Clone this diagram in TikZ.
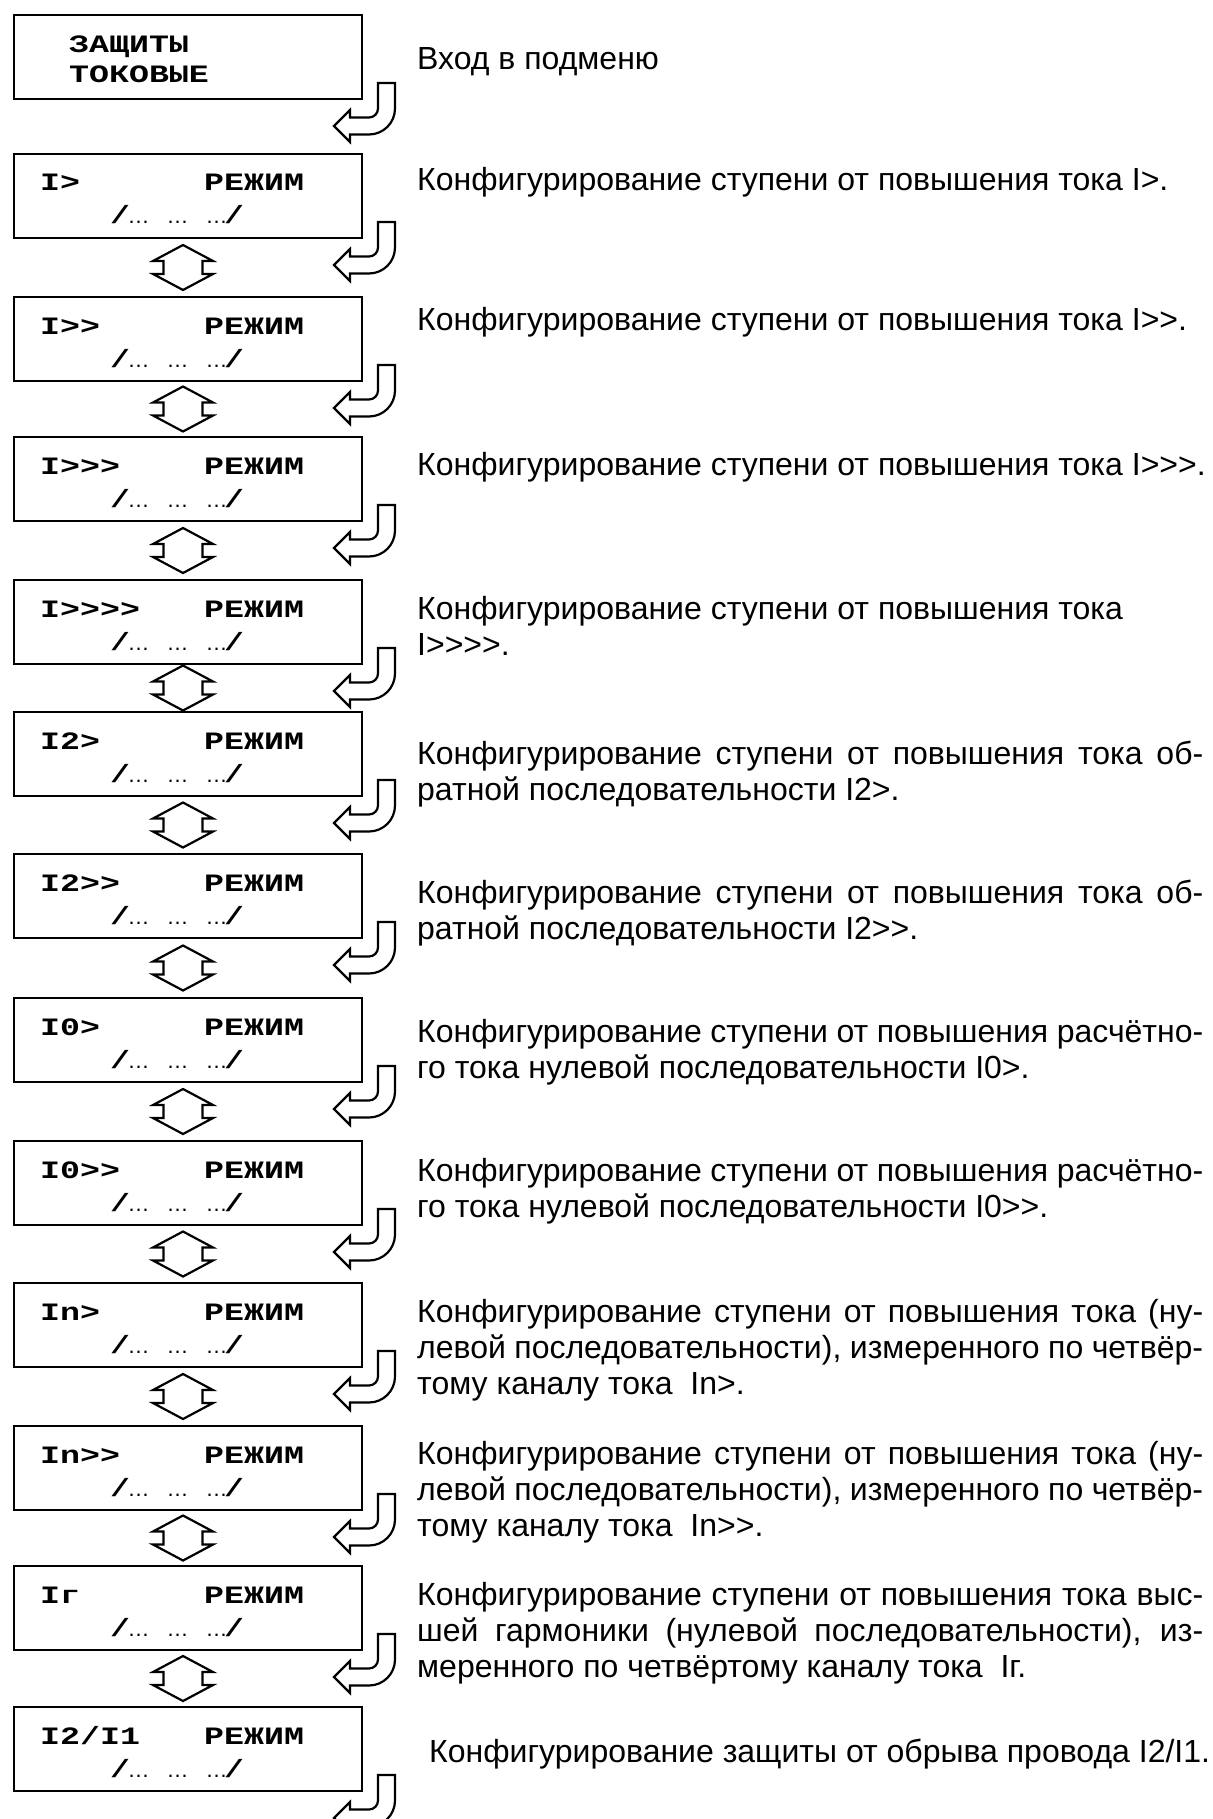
\documentclass[tikz,border=0pt]{standalone}
\usepackage{fontspec}
\setmainfont{Liberation Sans}
\newfontfamily\descfont{Liberation Sans}
\newfontfamily\lcdfont{Liberation Mono}[FakeStretch=1.33]
\usetikzlibrary{calc}

\newlength{\descw}
\setlength{\descw}{786pt}
\newcommand{\jl}[1]{\makebox[\descw][s]{#1}}
\newcommand{\elip}{{\descfont\mdseries\fontsize{22}{24}\selectfont …}}
\newcommand{\dotline}{/\kern-2.5pt\elip\hspace{17pt}\elip\hspace{17pt}\elip\kern-3.5pt/}

\tikzset{
  box/.style={draw, line width=2.6pt, anchor=north west, outer sep=0pt,
    inner sep=0pt, minimum width=348pt, minimum height=84pt},
  lcd/.style={anchor=base west, inner sep=0pt,
    font=\lcdfont\bfseries\fontsize{25}{28}\selectfont},
  desc/.style={anchor=base west, inner sep=0pt, align=left,
    font=\descfont\fontsize{32}{36}\selectfont},
  hollow/.style={draw, fill=white, line width=2.2pt, line join=miter},
  updown/.pic={
    \draw[hollow] (0,-22.5) -- (30,-6.5) -- (19.5,-6.5) -- (19.5,6.5)
      -- (30,6.5) -- (0,22.5) -- (-30,6.5) -- (-19.5,6.5) -- (-19.5,-6.5)
      -- (-30,-6.5) -- cycle;
  },
  turnarrow/.pic={
    \draw[hollow] (16,-16) -- (33,-16) -- (33,9.5)
      .. controls (33,23.85) and (21.35,35.5) .. (7,35.5)
      -- (-12,35.5) -- (-12,43) -- (-28,27) -- (-12,11) -- (-12,18.5)
      -- (7,18.5) .. controls (11.97,18.5) and (16,14.47) .. (16,9.5)
      -- cycle;
  }
}

\begin{document}
\begin{tikzpicture}[x=1pt, y=-1pt]
  \useasboundingbox (0,0) rectangle (1212,1819);
  %--- submenu entry ---
  \node[box] (b0) at (14,15) {};
  \node[lcd] (t0a) at ($(b0.north west)+(55,38)$) {ЗАЩИТЫ};
  \node[lcd] (t0b) at ($(b0.north west)+(55,68)$) {ТОКОВЫЕ};
  %--- stage boxes ---
  \foreach \n/\yt/\lbl in {1/154/{I>}, 2/297/{I>>}, 3/437/{I>>>},
      4/580/{I>>>>}, 5/712/{I2>}, 6/854/{I2>>}, 7/998/{I0>},
      8/1141/{I0>>}, 9/1283/{In>}, 10/1426/{In>>}, 11/1566/{Iг},
      12/1707/{I2/I1}} {
    \node[box] (b\n) at (14,\yt) {};
    \node[lcd] (m\n) at ($(b\n.north west)+(26,37)$) {\lbl};
    \node[lcd] (r\n) at ($(b\n.north west)+(190,37)$) {РЕЖИМ};
    \node[lcd] (s\n) at ($(b\n.north west)+(96,70)$) {\dotline};
  }
  %--- arrows ---
  \foreach \n in {1,...,11} {
    \pgfmathtruncatemacro{\m}{\n+1}
    \coordinate (g\n) at ($(b\n.south)!0.5!(b\m.north)+(-5,0)$);
    \pic at (g\n) {updown};
  }
  \foreach \n in {0,...,12}
    \pic at (b\n.south east) {turnarrow};
  %--- descriptions (y = baseline of last line) ---
  \node[desc] (d0) at (417,70) {Вход в подменю};
  \node[desc] (d1) at (417,191) {Конфигурирование ступени от повышения тока I>.};
  \node[desc] (d2) at (417,330) {Конфигурирование ступени от повышения тока I>>.};
  \node[desc] (d3) at (417,475) {Конфигурирование ступени от повышения тока I>>>.};
  \node[desc] (d4) at (417,655) {Конфигурирование ступени от повышения тока\\ I>>>>.};
  \node[desc] (d5) at (417,800) {\jl{Конфигурирование ступени от повышения тока об-}\\
    ратной последовательности I2>.};
  \node[desc] (d6) at (417,939) {\jl{Конфигурирование ступени от повышения тока об-}\\
    ратной последовательности I2>>.};
  \node[desc] (d7) at (417,1078) {\jl{Конфигурирование ступени от повышения расчётно-}\\
    го тока нулевой последовательности I0>.};
  \node[desc] (d8) at (417,1217) {\jl{Конфигурирование ступени от повышения расчётно-}\\
    го тока нулевой последовательности I0>>.};
  \node[desc] (d9) at (417,1394) {\jl{Конфигурирование ступени от повышения тока (ну-}\\
    \jl{левой последовательности), измеренного по четвёр-}\\
    тому каналу тока\ \ In>.};
  \node[desc] (d10) at (417,1536) {\jl{Конфигурирование ступени от повышения тока (ну-}\\
    \jl{левой последовательности), измеренного по четвёр-}\\
    тому каналу тока\ \ In>>.};
  \node[desc] (d11) at (417,1677) {\jl{Конфигурирование ступени от повышения тока выс-}\\
    \jl{шей гармоники (нулевой последовательности), из-}\\
    меренного по четвёртому каналу тока\ \ Iг.};
  \node[desc] (d12) at (417,1762) {\hspace*{12pt}Конфигурирование защиты от обрыва провода I2/I1.};
\end{tikzpicture}
\end{document}
